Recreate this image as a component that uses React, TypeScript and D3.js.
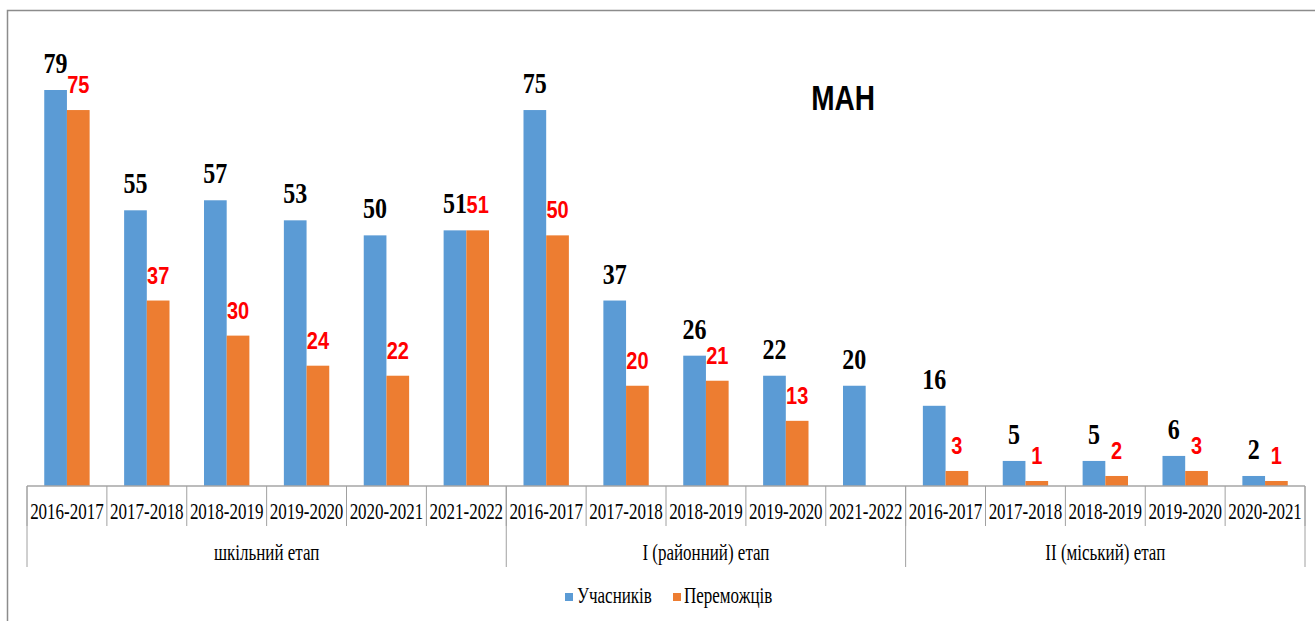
import { useEffect } from 'react'
import * as d3 from 'd3'

const stages = ['шкільний етап', 'I (районний) етап', 'II (міський) етап']
const years = [
  '2016-2017', '2017-2018', '2018-2019', '2019-2020', '2020-2021', '2021-2022',
  '2016-2017', '2017-2018', '2018-2019', '2019-2020', '2021-2022',
  '2016-2017', '2017-2018', '2018-2019', '2019-2020', '2020-2021',
]
const stageOf = [0, 0, 0, 0, 0, 0, 1, 1, 1, 1, 1, 2, 2, 2, 2, 2]
const participants = [79, 55, 57, 53, 50, 51, 75, 37, 26, 22, 20, 16, 5, 5, 6, 2]
const winners: (number | null)[] = [75, 37, 30, 24, 22, 51, 50, 20, 21, 13, null, 3, 1, 2, 3, 1]
const seriesNames = ['Учасників', 'Переможців']
const colors = ['#5b9bd5', '#ed7d31']

const width = 1315
const height = 621
const left = 27
const right = 1305
const base = 486
const serif = '"Liberation Serif", "Times New Roman", serif'
const sans = '"Liberation Sans", Arial, sans-serif'
const stretch = 1.3

const App = () => {
  useEffect(() => {
    document.body.style.margin = '0'
  }, [])

  const idx = years.map((_, i) => String(i))
  const x = d3.scaleBand().domain(idx).range([left, right]).padding(0)
  const sub = d3.scaleBand().domain(seriesNames).range([0, x.bandwidth()]).paddingOuter(0.76).paddingInner(0)
  const y = d3.scaleLinear().domain([0, 79]).range([base, 90])

  const txt = (tx: number, ty: number, s = stretch) => `translate(${tx},${ty}) scale(1,${s})`

  // boundaries between categories
  const bounds = d3.range(years.length + 1).map((i) => (i < years.length ? x(String(i))! : right))
  const groupEdges = bounds.filter((_, i) => i === 0 || i === years.length || stageOf[i] !== stageOf[i - 1])

  const stageCenters = stages.map((_, s) => {
    const members = idx.filter((_, i) => stageOf[i] === s)
    const a = x(members[0])!
    const b = x(members[members.length - 1])! + x.bandwidth()
    return (a + b) / 2
  })

  return (
    <svg width={width} height={height} style={{ display: 'block', background: '#fff' }}>
      <rect x={7.5} y={10.5} width={width + 20} height={height + 20} fill="none" stroke="#8c8c8c" strokeWidth={1.5} />

      {/* bars */}
      {idx.map((k, i) => (
        <g key={k}>
          <rect
            x={x(k)! + sub(seriesNames[0])!}
            y={y(participants[i])}
            width={sub.bandwidth()}
            height={base - y(participants[i])}
            fill={colors[0]}
          />
          {winners[i] != null && (
            <rect
              x={x(k)! + sub(seriesNames[1])!}
              y={y(winners[i]!)}
              width={sub.bandwidth()}
              height={base - y(winners[i]!)}
              fill={colors[1]}
            />
          )}
        </g>
      ))}

      {/* value labels */}
      {idx.map((k, i) => (
        <g key={'l' + k}>
          <text
            transform={txt(x(k)! + sub(seriesNames[0])! + sub.bandwidth() / 2, y(participants[i]) - 17, 1.25)}
            textAnchor="middle"
            fontFamily={serif}
            fontWeight="bold"
            fontSize={24}
            fill="#000"
          >
            {participants[i]}
          </text>
          {winners[i] != null && (
            <text
              transform={txt(x(k)! + sub(seriesNames[1])! + sub.bandwidth() / 2, y(winners[i]!) - 17, 1.2)}
              textAnchor="middle"
              fontFamily={sans}
              fontWeight="bold"
              fontSize={20}
              fill="#ff0000"
            >
              {winners[i]}
            </text>
          )}
        </g>
      ))}

      {/* axis */}
      <line x1={left} x2={right} y1={base} y2={base} stroke="#a6a6a6" strokeWidth={1.5} />
      {bounds.map((bx, i) => (
        <line key={'t' + i} x1={bx} x2={bx} y1={base} y2={526} stroke="#a0a0a0" strokeWidth={1} />
      ))}
      {groupEdges.map((bx, i) => (
        <line key={'g' + i} x1={bx} x2={bx} y1={base} y2={567} stroke="#a0a0a0" strokeWidth={1} />
      ))}
      {idx.map((k, i) => (
        <text
          key={'c' + k}
          transform={txt(x(k)! + x.bandwidth() / 2, 519)}
          textAnchor="middle"
          fontFamily={serif}
          fontSize={17}
          fill="#000"
        >
          {years[i]}
        </text>
      ))}
      {stages.map((s, i) => (
        <text key={s} transform={txt(stageCenters[i], 560)} textAnchor="middle" fontFamily={serif} fontSize={17} fill="#000">
          {s}
        </text>
      ))}

      {/* title */}
      <text transform={txt(843, 110, 1.25)} textAnchor="middle" fontFamily={sans} fontWeight="bold" fontSize={28} fill="#000">
        МАН
      </text>

      {/* legend */}
      <rect x={565} y={593} width={8} height={8} fill={colors[0]} />
      <text transform={txt(577, 603)} fontFamily={serif} fontSize={17} fill="#000">
        {seriesNames[0]}
      </text>
      <rect x={673} y={593} width={8} height={8} fill={colors[1]} />
      <text transform={txt(684, 603)} fontFamily={serif} fontSize={17} fill="#000">
        {seriesNames[1]}
      </text>
    </svg>
  )
}

export default App
